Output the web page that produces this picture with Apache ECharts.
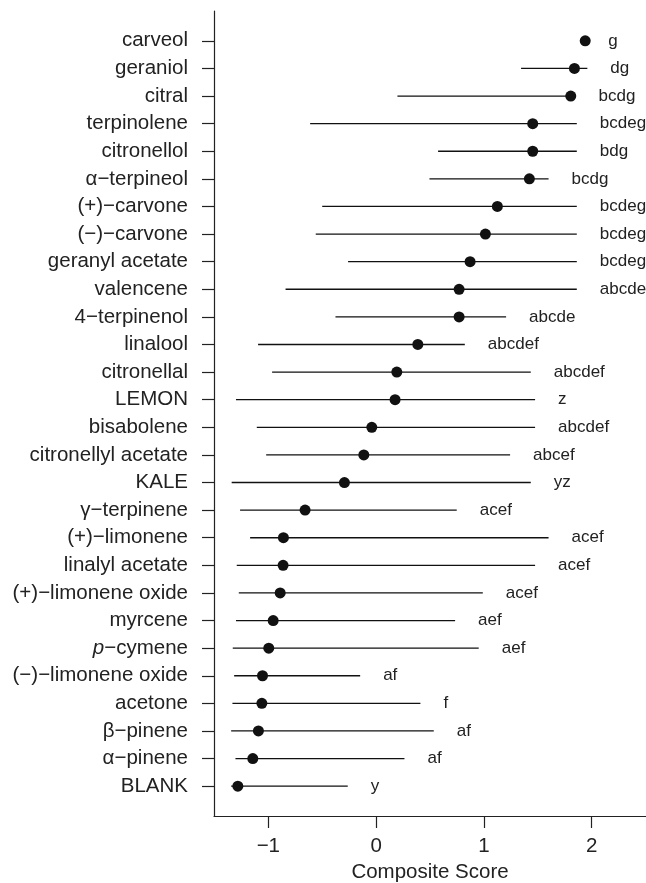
<!DOCTYPE html>
<html>
<head>
<meta charset="utf-8">
<script src="https://cdn.jsdelivr.net/npm/echarts@6/dist/echarts.min.js"></script>
<style>html,body{margin:0;padding:0;background:#fff;overflow:hidden;}#c{position:absolute;left:0;top:0;width:646px;height:883px;}</style>
</head>
<body>
<div id="c"></div>
<script>
const categories = ["carveol","geraniol","citral","terpinolene","citronellol","\u03b1\u2212terpineol","(+)\u2212carvone","(\u2212)\u2212carvone","geranyl acetate","valencene","4\u2212terpinenol","linalool","citronellal","LEMON","bisabolene","citronellyl acetate","KALE","\u03b3\u2212terpinene","(+)\u2212limonene","linalyl acetate","(+)\u2212limonene oxide","myrcene","p\u2212cymene","(\u2212)\u2212limonene oxide","acetone","\u03b2\u2212pinene","\u03b1\u2212pinene","BLANK"];
const means = [1.94,1.84,1.806,1.453,1.453,1.422,1.125,1.014,0.872,0.77,0.77,0.387,0.192,0.176,-0.04,-0.114,-0.294,-0.659,-0.86,-0.863,-0.89,-0.955,-0.996,-1.054,-1.06,-1.092,-1.144,-1.283];
const lows = [1.94,1.345,0.198,-0.612,0.575,0.495,-0.50,-0.56,-0.26,-0.84,-0.377,-1.095,-0.965,-1.30,-1.107,-1.02,-1.34,-1.262,-1.169,-1.293,-1.274,-1.30,-1.33,-1.317,-1.333,-1.345,-1.305,-1.345];
const highs = [1.94,1.96,1.85,1.862,1.862,1.60,1.862,1.862,1.862,1.862,1.206,0.823,1.435,1.475,1.475,1.243,1.435,0.748,1.60,1.475,0.99,0.733,0.952,-0.148,0.411,0.535,0.263,-0.263];
const groups = ["g","dg","bcdg","bcdeg","bdg","bcdg","bcdeg","bcdeg","bcdeg","abcde","abcde","abcdef","abcdef","z","abcdef","abcef","yz","acef","acef","acef","acef","aef","aef","af","f","af","af","y"];
const xTicks = [-1,0,1,2];

const FONT = "'Liberation Sans', Arial, Helvetica, sans-serif";
const rowIdx = categories.map((_, i) => i + 1);
const barData = categories.map((c, i) => [lows[i], highs[i], i + 1, groups[i]]);
const pointData = categories.map((c, i) => [means[i], i + 1]);

const chart = echarts.init(document.getElementById('c'), null, {renderer: 'canvas', width: 646, height: 883});
chart.setOption({
  animation: false,
  backgroundColor: '#fff',
  grid: {left: 214, right: 0, top: 11, bottom: 67, containLabel: false, outerBoundsMode: 'none'},
  xAxis: {
    type: 'value',
    min: -1.504, max: 2.504,
    name: 'Composite Score',
    nameLocation: 'middle',
    nameGap: 46,
    nameTextStyle: {fontFamily: FONT, fontSize: 20.5, color: '#222'},
    axisLine: {show: true, onZero: false, lineStyle: {color: '#222', width: 1.2}},
    axisTick: {show: true, length: 12, customValues: xTicks, lineStyle: {color: '#222', width: 1.2}},
    axisLabel: {customValues: xTicks, fontFamily: FONT, fontSize: 20.5, color: '#222', margin: 20,
      formatter: v => (v < 0 ? '\u2212' + Math.abs(v) : String(v))},
    splitLine: {show: false}
  },
  yAxis: {
    type: 'value',
    inverse: true,
    min: -0.08, max: 29.08,
    axisLine: {show: true, onZero: false, lineStyle: {color: '#222', width: 1.2}},
    axisTick: {show: true, length: 12, customValues: rowIdx, lineStyle: {color: '#222', width: 1.2}},
    axisLabel: {customValues: rowIdx, fontFamily: FONT, fontSize: 20.5, color: '#222', margin: 26,
      formatter: v => {
        const name = categories[Math.round(v) - 1] || '';
        if (name.indexOf('p\u2212') === 0) return '{i|p}' + name.slice(1);
        return name;
      },
      rich: {i: {fontStyle: 'italic', fontFamily: FONT, fontSize: 20.5, color: '#222'}}
    },
    splitLine: {show: false}
  },
  series: [
    {
      type: 'custom',
      data: barData,
      encode: {x: [0, 1], y: 2},
      renderItem: function (params, api) {
        const a = api.coord([api.value(0), api.value(2)]);
        const b = api.coord([api.value(1), api.value(2)]);
        return {
          type: 'group',
          children: [
            {type: 'line', shape: {x1: a[0], y1: a[1], x2: b[0], y2: b[1]},
             style: {stroke: '#111', lineWidth: 1.3}},
            {type: 'text', x: b[0] + 23, y: b[1],
             style: {text: groups[params.dataIndex], fill: '#222', font: '17px ' + FONT,
                     textAlign: 'left', textVerticalAlign: 'middle'}}
          ]
        };
      },
      z: 2
    },
    {
      type: 'scatter',
      data: pointData,
      symbol: 'circle',
      symbolSize: 11,
      itemStyle: {color: '#111', opacity: 1},
      z: 3
    }
  ]
});
</script>
</body>
</html>
